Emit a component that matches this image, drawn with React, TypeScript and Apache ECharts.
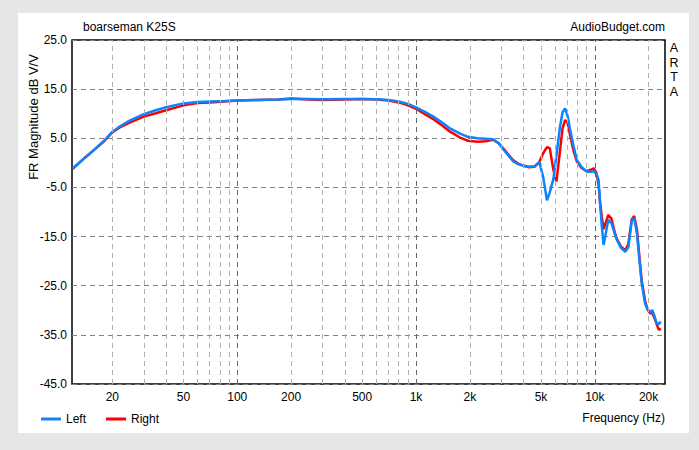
import React, { useEffect, useRef } from "react";
import * as echarts from "echarts";

const FREQ = [12, 14, 16, 18, 20, 22, 25, 30, 35, 40, 50, 60, 70, 85, 100, 130, 170, 200, 250, 300, 400, 500, 600, 700, 800, 900, 1000, 1120, 1250, 1400, 1550, 1750, 1950, 2200, 2450, 2700, 2900, 3100, 3300, 3500, 3750, 4000, 4300, 4600, 4900, 5150, 5400, 5600, 5870, 6100, 6390, 6600, 6820, 7050, 7280, 7600, 7930, 8400, 9000, 9500, 9850, 10200, 10500, 10700, 10950, 11200, 11500, 11900, 12400, 12900, 13300, 14000, 14800, 15400, 16100, 16600, 17200, 17800, 18300, 19100, 19700, 20400, 21000, 21500, 22200, 22800, 23400];

const LEFT = [-1.2, 1.0, 2.8, 4.5, 6.3, 7.4, 8.6, 9.9, 10.7, 11.3, 12.1, 12.4, 12.5, 12.6, 12.7, 12.8, 12.9, 13.0, 13.0, 12.95, 13.0, 13.0, 12.95, 12.8, 12.5, 12.0, 11.3, 10.4, 9.4, 8.2, 7.0, 6.0, 5.3, 5.0, 4.9, 4.8, 4.0, 2.6, 1.4, 0.3, -0.3, -0.6, -0.8, -0.7, 0.1, -3.0, -7.6, -6.0, -3.2, 1.5, 7.4, 10.3, 11.1, 9.5, 6.7, 3.5, 0.6, -0.8, -1.8, -1.8, -1.7, -2.3, -3.5, -8.2, -13.0, -16.7, -14.5, -11.6, -12.3, -14.3, -15.7, -17.3, -18.1, -17.2, -11.8, -11.3, -14.3, -20.0, -24.5, -28.6, -29.8, -30.3, -30.0, -31.0, -32.7, -32.8, -32.3];

const RIGHT = [-1.2, 1.0, 2.8, 4.4, 6.2, 7.2, 8.2, 9.4, 10.1, 10.7, 11.7, 12.2, 12.3, 12.5, 12.7, 12.8, 12.9, 13.1, 12.9, 12.8, 12.9, 13.0, 12.9, 12.7, 12.3, 11.7, 11.0, 9.9, 8.9, 7.6, 6.35, 5.2, 4.5, 4.3, 4.4, 4.7, 4.0, 2.8, 1.6, 0.5, -0.2, -0.6, -0.9, -0.8, 0.2, 2.0, 3.2, 3.0, -1.5, -3.8, 2.5, 7.0, 8.7, 8.2, 5.5, 2.5, 0.3, -1.0, -1.7, -1.4, -1.1, -2.0, -4.5, -8.0, -11.0, -13.5, -12.2, -10.6, -11.4, -14.0, -15.5, -17.0, -17.8, -16.5, -11.5, -10.8, -13.5, -19.5, -24.0, -28.0, -29.8, -30.6, -30.6, -31.5, -32.8, -34.0, -33.7];

const GRID_FREQS = [20, 30, 40, 50, 60, 70, 80, 90, 100, 200, 300, 400, 500, 600, 700, 800, 900, 1000, 2000, 3000, 4000, 5000, 6000, 7000, 8000, 9000, 10000, 20000];
const DECADE_FREQS = [100, 1000, 10000];
const TICK_FREQS = [20, 50, 100, 200, 500, 1000, 2000, 5000, 10000, 20000];
const TICK_LABELS = ["20", "50", "100", "200", "500", "1k", "2k", "5k", "10k", "20k"];
const SIDE_LETTERS = ["A", "R", "T", "A"];

const X_MIN = 11.9;
const X_MAX = 24700;
const Y_MIN = -45;
const Y_MAX = 25;
const Y_STEP = 10;

const FONT = "'Liberation Sans', Arial, sans-serif";

export default function App() {
  const ref = useRef<HTMLDivElement>(null);
  useEffect(() => {
    if (!ref.current) return;
    const chart = echarts.init(ref.current, null, { renderer: "svg" });
    const toPairs = (vals: number[]) => FREQ.map((f, i) => [f, vals[i]]);
    const markData = GRID_FREQS.map((f) => {
      const idx = TICK_FREQS.indexOf(f);
      const decade = DECADE_FREQS.indexOf(f) >= 0;
      return {
        xAxis: f,
        lineStyle: {
          color: decade ? "#666666" : "#b0b0b0",
          type: [5, 4],
          width: 1,
        },
        label:
          idx >= 0
            ? { show: true, formatter: TICK_LABELS[idx] }
            : { show: false },
      };
    });
    chart.setOption({
      animation: false,
      backgroundColor: "#e6e6e6",
      textStyle: { fontFamily: FONT },
      graphic: [
        {
          type: "rect",
          z: -10,
          shape: { x: 18, y: 13, width: 671, height: 420 },
          style: { fill: "#ffffff" },
          silent: true,
        },
        {
          type: "text",
          x: 83,
          y: 27,
          style: {
            text: "boarseman K25S",
            fill: "#000",
            font: `12px ${FONT}`,
            textAlign: "left",
            textVerticalAlign: "middle",
          },
        },
        {
          type: "text",
          x: 665,
          y: 27,
          style: {
            text: "AudioBudget.com",
            fill: "#000",
            font: `12px ${FONT}`,
            textAlign: "right",
            textVerticalAlign: "middle",
          },
        },
        ...SIDE_LETTERS.map((ch, i) => ({
          type: "text",
          x: 674,
          y: 48 + i * 14.5,
          style: {
            text: ch,
            fill: "#000",
            font: `12.5px ${FONT}`,
            textAlign: "center",
            textVerticalAlign: "middle",
          },
        })),
        {
          type: "text",
          x: 33,
          y: 117,
          rotation: Math.PI / 2,
          style: {
            text: "FR Magnitude dB V/V",
            fill: "#000",
            font: `13px ${FONT}`,
            textAlign: "center",
            textVerticalAlign: "middle",
          },
        },
        {
          type: "text",
          x: 665,
          y: 418,
          style: {
            text: "Frequency (Hz)",
            fill: "#000",
            font: `12px ${FONT}`,
            textAlign: "right",
            textVerticalAlign: "middle",
          },
        },
      ],
      legend: {
        left: 36,
        top: 408,
        data: ["Left", "Right"],
        icon: "rect",
        itemWidth: 20,
        itemHeight: 3,
        itemGap: 20,
        textStyle: { color: "#000", fontSize: 12, fontFamily: FONT },
      },
      grid: {
        left: 72,
        top: 40,
        width: 593,
        height: 344,
        show: true,
        borderColor: "#000",
        borderWidth: 1.5,
        backgroundColor: "transparent",
      },
      xAxis: {
        type: "log",
        logBase: 10,
        min: X_MIN,
        max: X_MAX,
        axisLine: { show: false },
        axisTick: { show: false },
        axisLabel: { show: false },
        splitLine: { show: false },
      },
      yAxis: {
        type: "value",
        min: Y_MIN,
        max: Y_MAX,
        interval: Y_STEP,
        axisLine: { show: false },
        axisTick: { show: false },
        axisLabel: {
          color: "#000",
          fontSize: 12,
          fontFamily: FONT,
          margin: 5,
          formatter: (v: number) => v.toFixed(1),
        },
        splitLine: {
          show: true,
          lineStyle: { color: "#808080", type: [5, 4], width: 1 },
        },
      },
      series: [
        {
          name: "grid",
          type: "line",
          data: [[1000, 0]],
          showSymbol: false,
          symbol: "none",
          lineStyle: { opacity: 0 },
          silent: true,
          z: 1,
          markLine: {
            silent: true,
            symbol: ["none", "none"],
            animation: false,
            label: {
              position: "start",
              distance: 7,
              color: "#000",
              fontSize: 12,
              fontFamily: FONT,
            },
            data: markData,
          },
        },
        {
          name: "Right",
          type: "line",
          data: toPairs(RIGHT),
          showSymbol: false,
          symbol: "none",
          color: "#ff0000",
          lineStyle: { color: "#ff0000", width: 2.5 },
          z: 3,
        },
        {
          name: "Left",
          type: "line",
          data: toPairs(LEFT),
          showSymbol: false,
          symbol: "none",
          color: "#0a84ff",
          lineStyle: { color: "#0a84ff", width: 2.5 },
          z: 4,
        },
      ],
    });
    return () => chart.dispose();
  }, []);
  return (
    <div
      ref={ref}
      style={{ position: "fixed", left: 0, top: 0, width: 699, height: 450 }}
    />
  );
}
